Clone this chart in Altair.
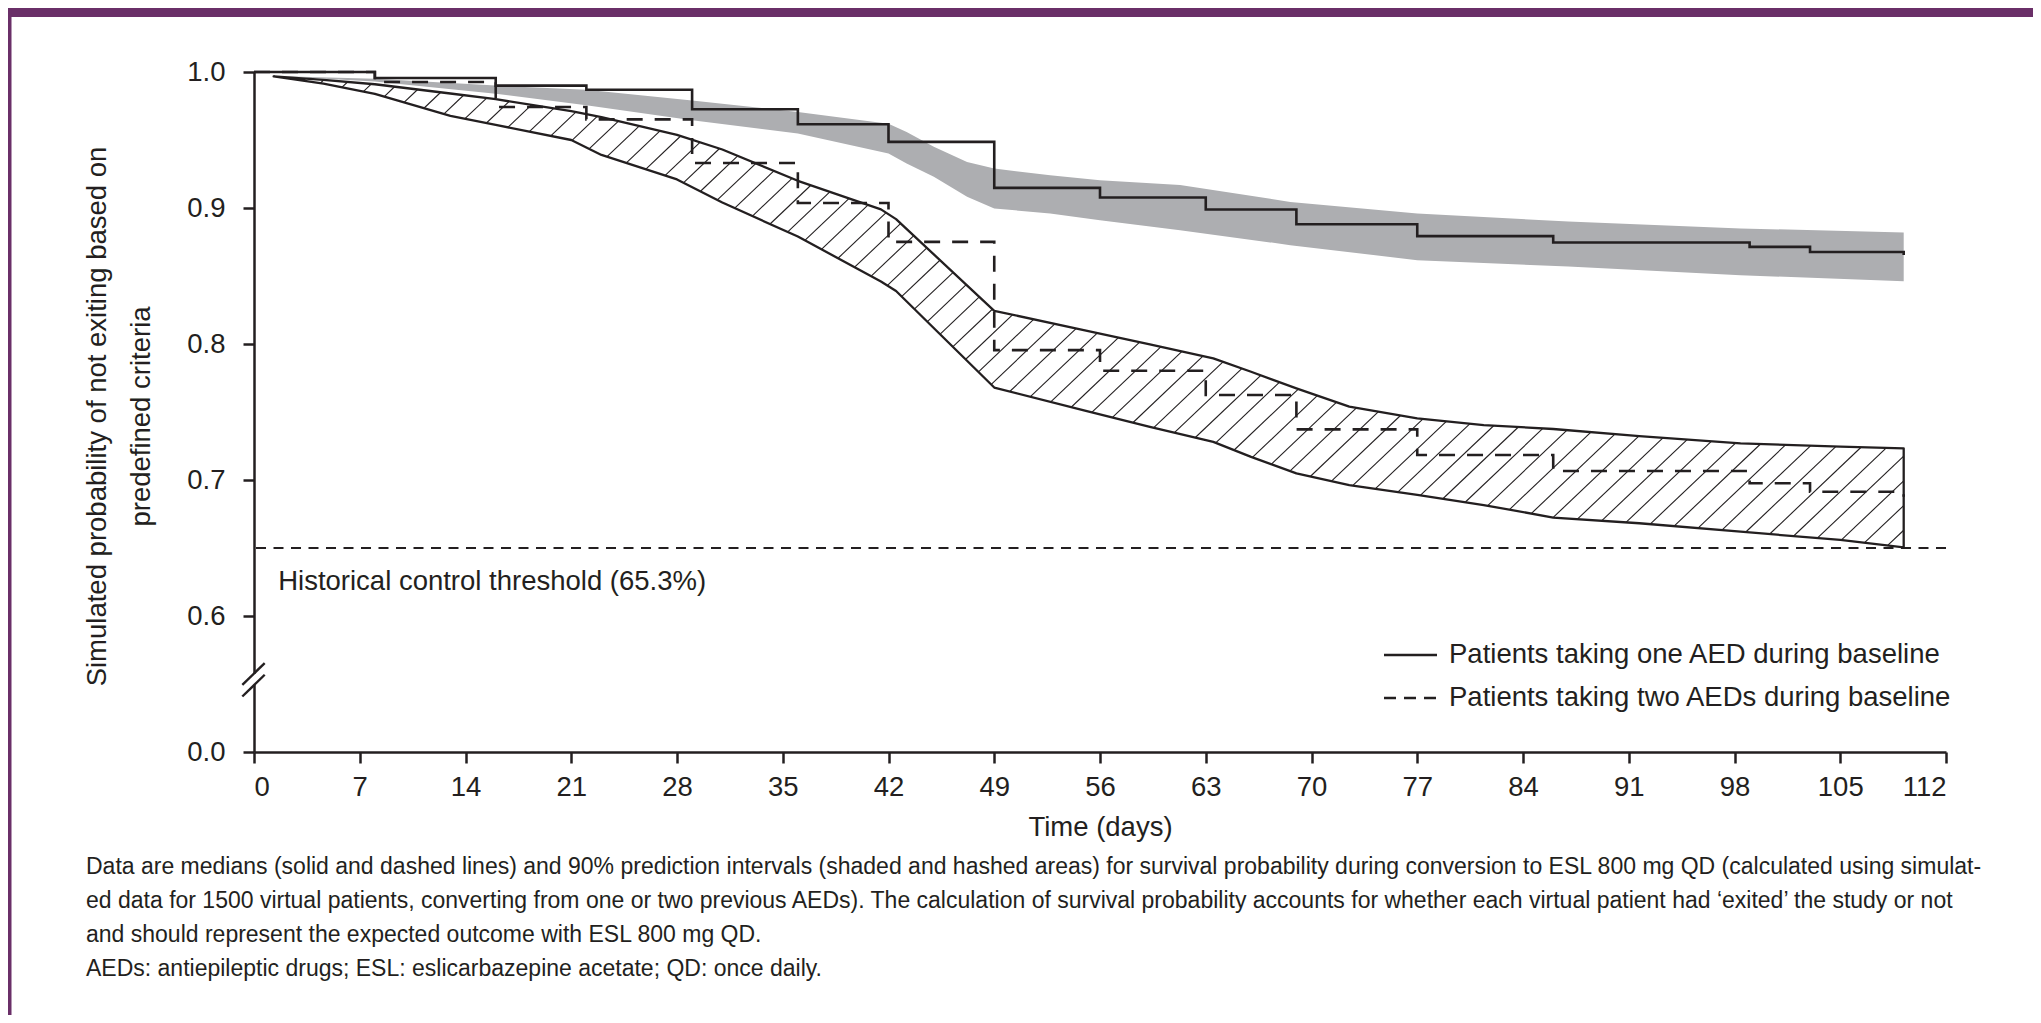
import altair as alt
import pandas as pd
import numpy as np

# ---------------- data ----------------
# medians (step functions)
one_step_days = [0, 8, 16, 22, 29, 36, 42, 49, 56, 63, 69, 77, 86, 99, 103, 109.2]
one_median = [1.0, 0.9956, 0.990, 0.987, 0.9726, 0.9616, 0.9486, 0.9148, 0.9077,
              0.8989, 0.8881, 0.8793, 0.8746, 0.8714, 0.8677, 0.8655]

two_step_days = [0, 8, 16, 22, 29, 36, 42, 49, 56, 63, 69, 77, 86, 99, 103, 109.2]
two_median = [1.0, 0.9927, 0.9743, 0.9652, 0.9331, 0.9037, 0.8751, 0.7955, 0.7803,
              0.7625, 0.7372, 0.7184, 0.7066, 0.6976, 0.6914, 0.6877]

# 90% prediction interval, one AED (shaded)
one_pi_days = [1.3, 8, 16, 22, 29, 36, 42, 43.2, 45, 47.2, 49, 52.7, 56, 61.3, 68.6,
               77, 87, 98.4, 109.2]
one_pi_hi = [0.997, 0.995, 0.990, 0.987, 0.979, 0.9706, 0.962, 0.9559, 0.945, 0.9339,
             0.929, 0.924, 0.9204, 0.917, 0.9045, 0.896, 0.890, 0.885, 0.882]
one_pi_lo = [0.997, 0.993, 0.984, 0.9755, 0.9645, 0.9547, 0.940, 0.9327, 0.923, 0.9082,
             0.8996, 0.896, 0.891, 0.8837, 0.8727, 0.8616, 0.857, 0.8506, 0.8462]

# 90% prediction interval, two AEDs (hatched)
two_pi_days = [1.3, 4.6, 8, 13, 16, 21, 23, 28, 31, 36, 41.5, 42.5, 49, 55, 59.3, 63.5,
               66, 69, 72.5, 77, 81.4, 86, 91.7, 98.4, 105, 109.2]
two_pi_hi = [0.9968, 0.9942, 0.991, 0.9842, 0.980, 0.9712, 0.9668, 0.9537, 0.943, 0.920,
             0.899, 0.8918, 0.8244, 0.810, 0.7998, 0.7894, 0.7796, 0.7674, 0.7539, 0.7453,
             0.7404, 0.7375, 0.7323, 0.727, 0.7245, 0.7233]
two_pi_lo = [0.9968, 0.9915, 0.9839, 0.9677, 0.9611, 0.950, 0.939, 0.921, 0.904, 0.879,
             0.846, 0.839, 0.768, 0.751, 0.739, 0.728, 0.717, 0.7049, 0.6963, 0.689,
             0.6816, 0.6724, 0.6682, 0.662, 0.6559, 0.6505]

threshold = 0.65
threshold_label = "Historical control threshold (65.3%)"

x_ticks = list(range(0, 113, 7))
y_ticks = [0.5, 0.6, 0.7, 0.8, 0.9, 1.0]   # 0.5 position is shown as "0.0" (broken axis)

legend_labels = ["Patients taking one AED during baseline",
                 "Patients taking two AEDs during baseline"]

y_title = ["Simulated probability of not exiting based on", "predefined criteria"]
x_title = "Time (days)"

caption = [
    "Data are medians (solid and dashed lines) and 90% prediction intervals (shaded and hashed areas) for survival probability during conversion to ESL 800 mg QD (calculated using simulat-",
    "ed data for 1500 virtual patients, converting from one or two previous AEDs). The calculation of survival probability accounts for whether each virtual patient had \u2018exited\u2019 the study or not",
    "and should represent the expected outcome with ESL 800 mg QD.",
    "AEDs: antiepileptic drugs; ESL: eslicarbazepine acetate; QD: once daily.",
]

# ---------------- layout / style ----------------
W, H = 1692, 680
PAD = {"left": 246, "top": 64, "right": 87, "bottom": 263}
FONT = "Liberation Sans, Arial, Helvetica, sans-serif"
FS = 27.5
INK = "#231f20"
GREY = "#adaeb1"
PURPLE = "#6a2f68"

x_scale = alt.Scale(domain=[0, 112], nice=False, zero=False)
y_scale = alt.Scale(domain=[0.5, 1.0], nice=False, zero=False)

x_axis = alt.Axis(values=x_ticks, title=x_title, labelPadding=10, titlePadding=13,
                  format="d")
y_axis = alt.Axis(values=y_ticks, title=y_title,
                  labelExpr="datum.value < 0.55 ? '0.0' : format(datum.value, '.1f')",
                  labelPadding=18, titleX=-143, titleY=344, titleAngle=270,
                  titleAlign="center", titleBaseline="bottom", titleLineHeight=44)


def X(field):
    return alt.X(field, type="quantitative", scale=x_scale, axis=x_axis)


def Y(field):
    return alt.Y(field, type="quantitative", scale=y_scale, axis=y_axis)


one_med_df = pd.DataFrame({"day": one_step_days, "v": one_median})
two_med_df = pd.DataFrame({"day": two_step_days, "v": two_median})
one_pi_df = pd.DataFrame({"day": one_pi_days, "lo": one_pi_lo, "hi": one_pi_hi})
two_pi_df = pd.DataFrame({"day": two_pi_days, "lo": two_pi_lo, "hi": two_pi_hi})

# hatch texture for the two-AED band: parallel strokes clipped to the band
px_day = W / 112.0
px_val = H / 0.5
slope = 0.95 * px_day / px_val          # value units per day for the hatch stroke
step_days = 26.0 / px_day               # horizontal spacing of the strokes
grid = np.linspace(two_pi_days[0], two_pi_days[-1], 6000)
lo_g = np.interp(grid, two_pi_days, two_pi_lo)
hi_g = np.interp(grid, two_pi_days, two_pi_hi)
segs = []
d0 = two_pi_days[0] - (1.0 - 0.6) / slope
while d0 < two_pi_days[-1] + step_days:
    line = 0.65 + slope * (grid - d0)
    inside = (line >= lo_g) & (line <= hi_g)
    idx = np.nonzero(inside)[0]
    if len(idx) > 1:
        a, b = idx[0], idx[-1]
        segs.append({"day": grid[a], "v": line[a], "day2": grid[b], "v2": line[b]})
    d0 += step_days
hatch_df = pd.DataFrame(segs)

grey_band = alt.Chart(one_pi_df).mark_area(color=GREY, opacity=1).encode(
    x=X("day"), y=Y("lo"), y2="hi")

hatch = alt.Chart(hatch_df).mark_rule(color=INK, strokeWidth=1.1).encode(
    x=X("day"), x2="day2", y=Y("v"), y2="v2")

hatch_outline = alt.Chart(two_pi_df).mark_area(
    fillOpacity=0, stroke=INK, strokeWidth=2.3, strokeJoin="round").encode(
    x=X("day"), y=Y("lo"), y2="hi")

thr = alt.Chart(pd.DataFrame({"v": [threshold]})).mark_rule(
    color=INK, strokeWidth=2.2, strokeDash=[10, 7.5]).encode(y=Y("v"))

thr_text = alt.Chart(pd.DataFrame({"day": [1.6], "v": [0.619], "t": [threshold_label]})).mark_text(
    align="left", baseline="alphabetic", font=FONT, fontSize=FS, color=INK).encode(
    x=X("day"), y=Y("v"), text="t")

one_line = alt.Chart(one_med_df).mark_line(
    interpolate="step-after", color=INK, strokeWidth=2.6).encode(x=X("day"), y=Y("v"))

two_line = alt.Chart(two_med_df).mark_line(
    interpolate="step-after", color=INK, strokeWidth=2.6, strokeDash=[16, 12]).encode(
    x=X("day"), y=Y("v"))

# axis break marks
brk_df = pd.DataFrame({"day": [-0.774, -0.774], "v": [0.5494, 0.5408],
                       "day2": [0.708, 0.708], "v2": [0.5653, 0.5568]})
gap = alt.Chart(pd.DataFrame({"day": [0.0], "v": [0.5494], "v2": [0.5575]})).mark_rule(
    color="white", strokeWidth=6).encode(x=X("day"), y=Y("v"), y2="v2")
brk = alt.Chart(brk_df).mark_rule(color=INK, strokeWidth=2.4).encode(
    x=X("day"), x2="day2", y=Y("v"), y2="v2")

# legend
one_row = pd.DataFrame({"t": [legend_labels[0]]})
two_row = pd.DataFrame({"t": [legend_labels[1]]})
leg1_line = alt.Chart(one_row).mark_rule(color=INK, strokeWidth=2.6).encode(
    x=alt.value(1130), x2=alt.value(1183), y=alt.value(583))
leg2_line = alt.Chart(two_row).mark_rule(color=INK, strokeWidth=2.6, strokeDash=[12, 8]).encode(
    x=alt.value(1130), x2=alt.value(1183), y=alt.value(626))
leg1_text = alt.Chart(one_row).mark_text(
    align="left", baseline="middle", font=FONT, fontSize=FS, color=INK).encode(
    x=alt.value(1195), y=alt.value(583), text="t")
leg2_text = alt.Chart(two_row).mark_text(
    align="left", baseline="middle", font=FONT, fontSize=FS, color=INK).encode(
    x=alt.value(1195), y=alt.value(626), text="t")

# caption under the chart
cap = alt.Chart(pd.DataFrame({"k": [0]})).mark_text(
    align="left", baseline="top", font=FONT, fontSize=23, lineHeight=34, color=INK).encode(
    x=alt.value(-168), y=alt.value(784), text=alt.value(caption))

# purple frame accents
frame = pd.DataFrame({"k": [0]})
top_bar = alt.Chart(frame).mark_rect(color=PURPLE).encode(
    x=alt.value(-246), x2=alt.value(W + 87), y=alt.value(-64), y2=alt.value(-55))
left_bar = alt.Chart(frame).mark_rect(color=PURPLE).encode(
    x=alt.value(-246), x2=alt.value(-242.5), y=alt.value(-64), y2=alt.value(H + 263))

chart = alt.layer(
    grey_band, hatch, hatch_outline, thr, one_line, two_line, thr_text,
    gap, brk, leg1_line, leg2_line, leg1_text, leg2_text, cap, top_bar, left_bar
).properties(
    width=W, height=H, padding=PAD,
    autosize=alt.AutoSizeParams(type="none"), background="white"
).configure_view(stroke=None).configure_axis(
    domainColor=INK, domainWidth=2.5, tickColor=INK, tickWidth=2.5, tickSize=11,
    labelFont=FONT, labelFontSize=FS, labelColor=INK,
    titleFont=FONT, titleFontSize=FS, titleColor=INK, titleFontWeight="normal",
    grid=False
)

chart.save("out.html", embed_options={"renderer": "svg", "actions": False})
